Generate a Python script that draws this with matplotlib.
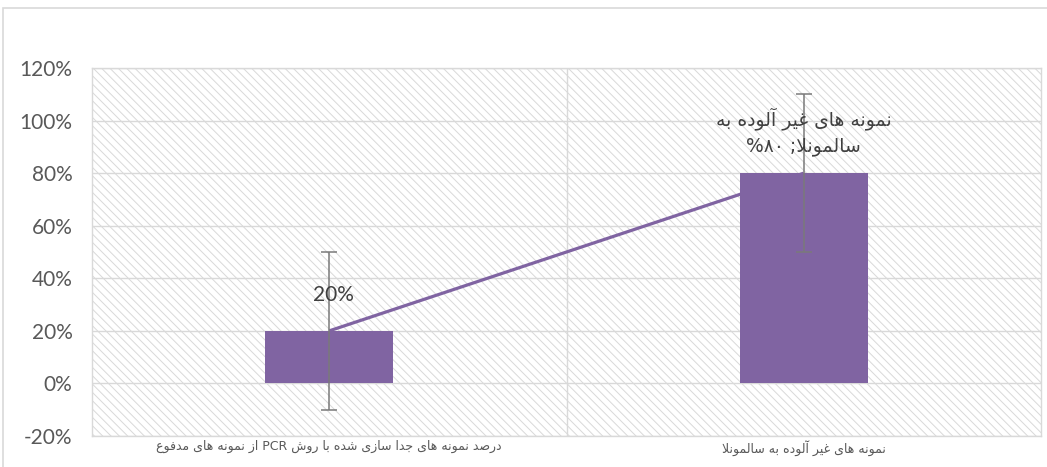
import matplotlib
matplotlib.use('Agg')
import matplotlib.pyplot as plt
from matplotlib.patches import Rectangle

# ---- data ----
categories = ["درصد نمونه های جدا سازی شده با روش PCR از نمونه های مدفوع",
              "نمونه های غیر آلوده به سالمونلا"]
values = [0.20, 0.80]
errors = [0.30, 0.30]
yticks = [-0.2, 0.0, 0.2, 0.4, 0.6, 0.8, 1.0, 1.2]
ytick_labels = ["-20%", "0%", "20%", "40%", "60%", "80%", "100%", "120%"]
label1_text = "20%"
label2_line1 = "نمونه های غیر آلوده به"
label2_line2 = "سالمونلا; ۸۰%"

# ---- minimal Arabic/Persian shaping (matplotlib has no complex text layout) ----
FORMS = {
    'ا': (0xFE8D, 0xFE8E, None, None),
    'آ': (0xFE81, 0xFE82, None, None),
    'ب': (0xFE8F, 0xFE90, 0xFE91, 0xFE92),
    'ج': (0xFE9D, 0xFE9E, 0xFE9F, 0xFEA0),
    'د': (0xFEA9, 0xFEAA, None, None),
    'ر': (0xFEAD, 0xFEAE, None, None),
    'ز': (0xFEAF, 0xFEB0, None, None),
    'س': (0xFEB1, 0xFEB2, 0xFEB3, 0xFEB4),
    'ش': (0xFEB5, 0xFEB6, 0xFEB7, 0xFEB8),
    'ص': (0xFEB9, 0xFEBA, 0xFEBB, 0xFEBC),
    'ع': (0xFEC9, 0xFECA, 0xFECB, 0xFECC),
    'غ': (0xFECD, 0xFECE, 0xFECF, 0xFED0),
    'ف': (0xFED1, 0xFED2, 0xFED3, 0xFED4),
    'ل': (0xFEDD, 0xFEDE, 0xFEDF, 0xFEE0),
    'م': (0xFEE1, 0xFEE2, 0xFEE3, 0xFEE4),
    'ن': (0xFEE5, 0xFEE6, 0xFEE7, 0xFEE8),
    'ه': (0xFEE9, 0xFEEA, 0xFEEB, 0xFEEC),
    'و': (0xFEED, 0xFEEE, None, None),
    'ی': (0xFBFC, 0xFBFD, 0xFBFE, 0xFBFF),
}
LAMALEF = {'ا': (0xFEFB, 0xFEFC), 'آ': (0xFEF5, 0xFEF6)}


def dual(c):
    return c in FORMS and FORMS[c][2] is not None


def shape_word(w):
    out = []
    i = 0
    n = len(w)
    while i < n:
        c = w[i]
        if c not in FORMS:
            out.append(c)
            i += 1
            continue
        prev = w[i - 1] if i > 0 else ''
        jp = dual(prev)
        if c == 'ل' and i + 1 < n and w[i + 1] in LAMALEF:
            iso, fin = LAMALEF[w[i + 1]]
            out.append(chr(fin if jp else iso))
            i += 2
            continue
        nxt = w[i + 1] if i + 1 < n else ''
        jn = dual(c) and nxt in FORMS
        f = FORMS[c]
        if jp and jn:
            code = f[3]
        elif jp:
            code = f[1]
        elif jn:
            code = f[2]
        else:
            code = f[0]
        out.append(chr(code))
        i += 1
    return ''.join(out)


def visual(text):
    toks = []
    for t in text.split(' '):
        if any(ch in FORMS for ch in t):
            toks.append(shape_word(t)[::-1])
        elif t.endswith('%') and len(t) > 1:
            toks.append('%' + t[:-1])
        else:
            toks.append(t)
    return ' '.join(reversed(toks))


# ---- figure ----
W, H = 1047, 467
plt.rcParams['hatch.linewidth'] = 0.7
fig = plt.figure(figsize=(W / 100, H / 100), dpi=100)
fig.patches.append(Rectangle((3 / W, -0.1), 1.2, 1.1 - 8 / H, transform=fig.transFigure,
                             fill=False, edgecolor='#d9d9d9', linewidth=1.2))

ax = fig.add_axes([92 / W, 1 - 436 / H, 949 / W, 368 / H])
ax.add_patch(Rectangle((0, 0), 1, 1, transform=ax.transAxes, facecolor='white',
                       edgecolor='#d9d9d9', hatch='\\\\\\\\', linewidth=0, zorder=0))

purple = '#8064A2'
x = [0, 1]
ax.plot(x, values, color=purple, linewidth=2.3, zorder=2, solid_capstyle='butt')
ax.bar(x, values, width=0.27, color=purple, zorder=3)
ax.errorbar(x, values, yerr=errors, fmt='none', ecolor='#7a7a7a', elinewidth=1.1,
            capsize=6, capthick=1.1, zorder=4)

ax.set_xlim(-0.5, 1.5)
ax.set_ylim(-0.2, 1.2)
ax.set_yticks(yticks)
ax.set_yticklabels(ytick_labels, fontfamily='Lato', fontsize=15, color='#595959')
ax.tick_params(axis='y', length=0, pad=14)
ax.set_xticks(x)
ax.set_xticklabels([visual(c) for c in categories], fontfamily='DejaVu Sans',
                   fontsize=9, color='#595959')
ax.tick_params(axis='x', length=0, pad=3)
ax.set_xticks([0.5], minor=True)
ax.tick_params(axis='x', which='minor', length=0)
ax.set_axisbelow(True)
ax.grid(axis='y', which='major', color='#d9d9d9', linewidth=1.0)
ax.grid(axis='x', which='minor', color='#d9d9d9', linewidth=1.0)
for s in ax.spines.values():
    s.set_color('#d9d9d9')
    s.set_linewidth(1.0)

ax.annotate(label1_text, (0, values[0]), xytext=(3, 26), textcoords='offset points',
            ha='center', va='center', fontfamily='Lato', fontsize=15, color='#404040', zorder=6)
ax.annotate(visual(label2_line1) + '\n' + visual(label2_line2), (1, values[1]),
            xytext=(0, 30), textcoords='offset points', ha='center', va='center',
            fontfamily='DejaVu Sans', fontsize=13.5, color='#404040', linespacing=1.45, zorder=6)

fig.savefig('out.png', dpi=100)
